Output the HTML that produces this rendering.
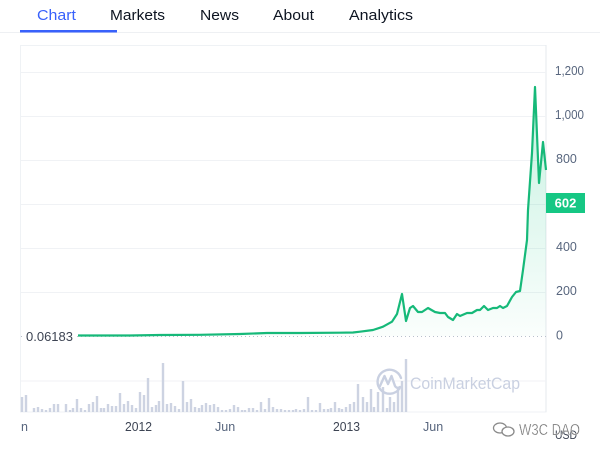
<!DOCTYPE html>
<html><head><meta charset="utf-8"><style>
html,body{margin:0;padding:0;background:#fff;}
svg{display:block;font-family:"Liberation Sans",sans-serif;}
</style></head><body>
<svg width="600" height="454" viewBox="0 0 600 454" xmlns="http://www.w3.org/2000/svg">
<defs>
<linearGradient id="g" x1="0" y1="87" x2="0" y2="336" gradientUnits="userSpaceOnUse">
<stop offset="0" stop-color="#16c784" stop-opacity="0.25"/>
<stop offset="1" stop-color="#16c784" stop-opacity="0.02"/>
</linearGradient>
</defs>
<rect width="600" height="454" fill="#fff"/>
<!-- tabs -->
<text x="37" y="20" font-size="15" fill="#3861fb" textLength="39" lengthAdjust="spacingAndGlyphs">Chart</text>
<text x="110" y="20" font-size="15" fill="#0d1421" textLength="55" lengthAdjust="spacingAndGlyphs">Markets</text>
<text x="200" y="20" font-size="15" fill="#0d1421" textLength="39" lengthAdjust="spacingAndGlyphs">News</text>
<text x="273" y="20" font-size="15" fill="#0d1421" textLength="41" lengthAdjust="spacingAndGlyphs">About</text>
<text x="349" y="20" font-size="15" fill="#0d1421" textLength="64" lengthAdjust="spacingAndGlyphs">Analytics</text>
<rect x="0" y="32" width="600" height="1" fill="#eef0f3"/>
<rect x="20" y="30" width="97" height="2.5" fill="#3861fb"/>
<!-- plot box -->
<rect x="20.5" y="45.5" width="525.5" height="366.5" fill="none" stroke="#eff2f5"/>
<line x1="546" y1="45" x2="546" y2="412" stroke="#e6e9ee"/>
<g stroke="#f0f2f5" stroke-width="1">
<line x1="21" y1="72.5" x2="546" y2="72.5"/>
<line x1="21" y1="116.5" x2="546" y2="116.5"/>
<line x1="21" y1="160.5" x2="546" y2="160.5"/>
<line x1="21" y1="204.5" x2="546" y2="204.5"/>
<line x1="21" y1="248.5" x2="546" y2="248.5"/>
<line x1="21" y1="292.5" x2="546" y2="292.5"/>
<line x1="21" y1="381" x2="546" y2="381"/>
</g>
<line x1="21" y1="336.5" x2="546" y2="336.5" stroke="#b9c0cc" stroke-dasharray="1,3"/>
<!-- volume bars -->
<g fill="#cdd3e2">
<rect x="20.8" y="397" width="2.4" height="15"/><rect x="24.8" y="395" width="2.4" height="17"/><rect x="32.8" y="408" width="2.4" height="4"/><rect x="36.8" y="407" width="2.4" height="5"/><rect x="40.8" y="409" width="2.4" height="3"/><rect x="44.8" y="410" width="2.4" height="2"/><rect x="48.8" y="408" width="2.4" height="4"/><rect x="52.8" y="404" width="2.4" height="8"/><rect x="56.8" y="404" width="2.4" height="8"/><rect x="64.8" y="404" width="2.4" height="8"/><rect x="68.8" y="410" width="2.4" height="2"/><rect x="71.8" y="408" width="2.4" height="4"/><rect x="75.8" y="399" width="2.4" height="13"/><rect x="79.8" y="408" width="2.4" height="4"/><rect x="83.8" y="410" width="2.4" height="2"/><rect x="87.8" y="404" width="2.4" height="8"/><rect x="91.8" y="402" width="2.4" height="10"/><rect x="95.8" y="396" width="2.4" height="16"/><rect x="99.8" y="408" width="2.4" height="4"/><rect x="102.8" y="408" width="2.4" height="4"/><rect x="106.8" y="404" width="2.4" height="8"/><rect x="110.8" y="406" width="2.4" height="6"/><rect x="114.8" y="406" width="2.4" height="6"/><rect x="118.8" y="393" width="2.4" height="19"/><rect x="122.8" y="404" width="2.4" height="8"/><rect x="126.8" y="401" width="2.4" height="11"/><rect x="130.8" y="405" width="2.4" height="7"/><rect x="134.8" y="408" width="2.4" height="4"/><rect x="138.8" y="392" width="2.4" height="20"/><rect x="142.8" y="395" width="2.4" height="17"/><rect x="146.8" y="378" width="2.4" height="34"/><rect x="150.8" y="407" width="2.4" height="5"/><rect x="154.8" y="405" width="2.4" height="7"/><rect x="157.8" y="401" width="2.4" height="11"/><rect x="161.8" y="363" width="2.4" height="49"/><rect x="165.8" y="404" width="2.4" height="8"/><rect x="169.8" y="403" width="2.4" height="9"/><rect x="173.8" y="406" width="2.4" height="6"/><rect x="177.8" y="409" width="2.4" height="3"/><rect x="181.8" y="381" width="2.4" height="31"/><rect x="185.8" y="402" width="2.4" height="10"/><rect x="189.8" y="399" width="2.4" height="13"/><rect x="193.8" y="407" width="2.4" height="5"/><rect x="197.8" y="408" width="2.4" height="4"/><rect x="200.8" y="405" width="2.4" height="7"/><rect x="204.8" y="403" width="2.4" height="9"/><rect x="208.8" y="405" width="2.4" height="7"/><rect x="212.8" y="404" width="2.4" height="8"/><rect x="216.8" y="407" width="2.4" height="5"/><rect x="220.8" y="410" width="2.4" height="2"/><rect x="224.8" y="410" width="2.4" height="2"/><rect x="228.8" y="409" width="2.4" height="3"/><rect x="232.8" y="405" width="2.4" height="7"/><rect x="236.8" y="407" width="2.4" height="5"/><rect x="240.8" y="410" width="2.4" height="2"/><rect x="243.8" y="410" width="2.4" height="2"/><rect x="247.8" y="408" width="2.4" height="4"/><rect x="251.8" y="408" width="2.4" height="4"/><rect x="255.8" y="410" width="2.4" height="2"/><rect x="259.8" y="402" width="2.4" height="10"/><rect x="263.8" y="409" width="2.4" height="3"/><rect x="267.8" y="398" width="2.4" height="14"/><rect x="271.8" y="407" width="2.4" height="5"/><rect x="275.8" y="409" width="2.4" height="3"/><rect x="279.8" y="409" width="2.4" height="3"/><rect x="283.8" y="410" width="2.4" height="2"/><rect x="287.8" y="410" width="2.4" height="2"/><rect x="291.8" y="410" width="2.4" height="2"/><rect x="294.8" y="409" width="2.4" height="3"/><rect x="298.8" y="410" width="2.4" height="2"/><rect x="302.8" y="409" width="2.4" height="3"/><rect x="306.8" y="397" width="2.4" height="15"/><rect x="310.8" y="410" width="2.4" height="2"/><rect x="314.8" y="410" width="2.4" height="2"/><rect x="318.8" y="403" width="2.4" height="9"/><rect x="322.8" y="409" width="2.4" height="3"/><rect x="326.8" y="409" width="2.4" height="3"/><rect x="329.8" y="408" width="2.4" height="4"/><rect x="333.8" y="402" width="2.4" height="10"/><rect x="337.8" y="408" width="2.4" height="4"/><rect x="340.8" y="409" width="2.4" height="3"/><rect x="344.8" y="407" width="2.4" height="5"/><rect x="348.8" y="404" width="2.4" height="8"/><rect x="352.8" y="402" width="2.4" height="10"/><rect x="356.8" y="384" width="2.4" height="28"/><rect x="361.8" y="397" width="2.4" height="15"/><rect x="365.8" y="402" width="2.4" height="10"/><rect x="369.8" y="389" width="2.4" height="23"/><rect x="372.8" y="407" width="2.4" height="5"/><rect x="376.8" y="392" width="2.4" height="20"/><rect x="381.8" y="387" width="2.4" height="25"/><rect x="385.8" y="408" width="2.4" height="4"/><rect x="388.8" y="397" width="2.4" height="15"/><rect x="392.8" y="402" width="2.4" height="10"/><rect x="396.8" y="388" width="2.4" height="24"/><rect x="400.8" y="381" width="2.4" height="31"/><rect x="404.8" y="359" width="2.4" height="53"/>
</g>
<!-- CMC watermark -->
<g fill="none" stroke="#c9d0e1" stroke-width="2.4" stroke-linecap="round" stroke-linejoin="round">
<path d="M399.5 388.5 A12 12 0 1 1 401 378"/>
<path d="M380 386 L384.5 376 L388 384 L391.5 376 L395 386 Q397 389 400 387"/>
</g>
<text x="410" y="389" font-size="17" fill="#c9d0e1" textLength="110" lengthAdjust="spacingAndGlyphs">CoinMarketCap</text>
<!-- price area -->
<path d="M78 335.5 L100 335.5 L130 335.5 L160 335 L200 334.8 L240 334 L267 333 L300 333 L340 332.7 L353 332.5 L360 331.7 L373 330 L383 326.7 L392 321.7 L397 314 L402 294 L406 321 L410 308 L413 306 L418 312 L422 312 L428 308 L435 312 L440 313 L445 313 L448 317 L453 320 L457 314 L460 316 L467 313 L472 313 L477 310 L480 310 L484 306 L488 310 L493 308 L497 308 L500 306 L503 308 L507 306 L512 297 L516 292 L520 291 L523 270 L527 240 L528 210 L532 153 L535 87 L539 183 L543 142 L546 170 L546 336 L78 336 Z" fill="url(#g)"/>
<path d="M78 335.5 L100 335.5 L130 335.5 L160 335 L200 334.8 L240 334 L267 333 L300 333 L340 332.7 L353 332.5 L360 331.7 L373 330 L383 326.7 L392 321.7 L397 314 L402 294 L406 321 L410 308 L413 306 L418 312 L422 312 L428 308 L435 312 L440 313 L445 313 L448 317 L453 320 L457 314 L460 316 L467 313 L472 313 L477 310 L480 310 L484 306 L488 310 L493 308 L497 308 L500 306 L503 308 L507 306 L512 297 L516 292 L520 291 L523 270 L527 240 L528 210 L532 153 L535 87 L539 183 L543 142 L546 170" fill="none" stroke="#16b979" stroke-width="2.2" stroke-linejoin="round"/>
<!-- start label -->
<rect x="22" y="327" width="54" height="18" fill="#fff"/>
<text x="26" y="341" font-size="13" fill="#3d4453" textLength="47" lengthAdjust="spacingAndGlyphs">0.06183</text>
<!-- y labels -->
<g font-size="12.5" fill="#58667e">
<text x="555" y="75" textLength="29" lengthAdjust="spacingAndGlyphs">1,200</text>
<text x="555" y="119" textLength="29" lengthAdjust="spacingAndGlyphs">1,000</text>
<text x="556" y="163">800</text>
<text x="556" y="251">400</text>
<text x="556" y="295">200</text>
<text x="556" y="339.5">0</text>
</g>
<rect x="546" y="193" width="39" height="20" fill="#16c784"/>
<text x="565.5" y="207.5" font-size="13" font-weight="bold" fill="#fff" text-anchor="middle">602</text>
<!-- x labels -->
<g font-size="12.5">
<text x="21" y="431" fill="#58667e">n</text>
<text x="125" y="431" fill="#3d4453" textLength="27" lengthAdjust="spacingAndGlyphs">2012</text>
<text x="215" y="431" fill="#58667e">Jun</text>
<text x="333" y="431" fill="#3d4453" textLength="27" lengthAdjust="spacingAndGlyphs">2013</text>
<text x="423" y="431" fill="#58667e">Jun</text>
</g>
<text x="555" y="439" font-size="12" fill="#3d4453" textLength="22" lengthAdjust="spacingAndGlyphs">USD</text>
<!-- W3C DAO watermark -->
<g fill="none" stroke="#8a8a8a" stroke-width="1.3">
<ellipse cx="500" cy="428" rx="6.5" ry="5"/>
<ellipse cx="508" cy="431.5" rx="6" ry="4.5" fill="#fff"/>
</g>
<text x="519" y="435" font-size="15.5" fill="#777" stroke="#fff" stroke-width="0.3" textLength="61" lengthAdjust="spacingAndGlyphs">W3C DAO</text>
</svg>
</body></html>
